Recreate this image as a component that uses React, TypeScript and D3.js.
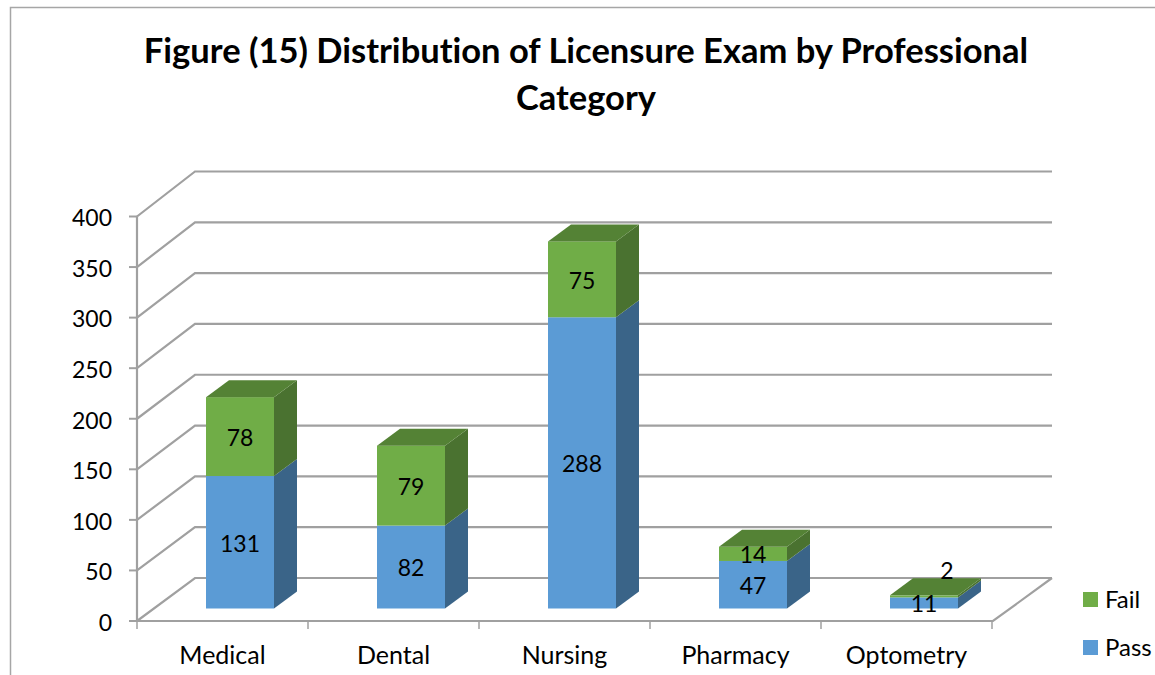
import React from "react";
import * as d3 from "d3";

const categories = ["Medical", "Dental", "Nursing", "Pharmacy", "Optometry"];
const passValues = [131, 82, 288, 47, 11];
const failValues = [78, 79, 75, 14, 2];
const yTicks = [0, 50, 100, 150, 200, 250, 300, 350, 400];
const titleLines = ["Figure (15) Distribution of Licensure Exam by Professional", "Category"];

const W = 1155, H = 675;
const FONT = "Lato, Carlito, Calibri, sans-serif";
const GRID = "#a0a0a0";
const depthX = 58;
const barDepthX = 23, barDepthY = 17;
const barW = 68, barOffsetX = 17.5, barLift = 12.5;

const colors = {
  Pass: { front: "#5b9bd5", side: "#3a6488", top: "#41719c" },
  Fail: { front: "#70ad47", side: "#4a7230", top: "#548235" },
};

const x = d3.scaleBand<string>().domain(categories).range([137, 992]);
const y = d3.scaleLinear().domain([0, 400]).range([621, 216.5]);
const yBack = d3.scaleLinear().domain([0, 400]).range([578, 171.5]);

const rows = categories.map((c, i) => ({ cat: c, Pass: passValues[i], Fail: failValues[i] }));
const stacked = d3.stack<any>().keys(["Pass", "Fail"])(rows);
const poly = d3.line();

export default function App() {
  return (
    <svg width={W} height={H} style={{ position: "absolute", left: 0, top: 0, background: "#fff", display: "block", fontVariantLigatures: "none" }} fontFamily={FONT}>
      <path d={`M10.5,${H}V7.5H${W}`} fill="none" stroke="#a6a6a6" strokeWidth={1.5} />
      {titleLines.map((t, i) => (
        <text key={t} x={586} y={63 + i * 47} textAnchor="middle" fontSize={34.5} fontWeight={700} fill="#000">{t}</text>
      ))}

      {yTicks.map((t) => {
        const yy = y(t);
        const yb = yBack(t);
        return (
          <g key={t}>
            <path d={poly([[137, yy], [137 + depthX, yb], [1052, yb]])!} fill="none" stroke={GRID} strokeWidth={2.2} />
            <line x1={129} x2={137} y1={yy} y2={yy} stroke={GRID} strokeWidth={2} />
            <text x={112} y={yy + 1.5} dy="0.36em" textAnchor="end" fontSize={23} fill="#000">{t}</text>
          </g>
        );
      })}
      <line x1={137} x2={137} y1={y(400)} y2={y(0)} stroke={GRID} strokeWidth={2.2} />
      <path d={poly([[137, y(0)], [993, y(0)], [1052, yBack(0)]])!} fill="none" stroke={GRID} strokeWidth={2.2} />
      {d3.range(categories.length + 1).map((i) => {
        const xx = 137 + i * x.step();
        return <line key={i} x1={xx} x2={xx} y1={y(0)} y2={y(0) + 8} stroke={GRID} strokeWidth={1.5} />;
      })}
      {categories.map((c) => (
        <text key={c} x={x(c)! + x.bandwidth() / 2} y={664} textAnchor="middle" fontSize={25} fill="#000">{c}</text>
      ))}

      {categories.map((c, i) => {
        const x0 = x(c)! + x.bandwidth() / 2 + barOffsetX - barW / 2;
        const x1 = x0 + barW;
        return (
          <g key={c}>
            {stacked.map((s) => {
              const key = s.key as "Pass" | "Fail";
              const col = colors[key];
              const yb = y(s[i][0]) - barLift;
              const yt = y(s[i][1]) - barLift;
              return (
                <g key={key}>
                  <rect x={x0} y={yt} width={barW} height={yb - yt} fill={col.front} />
                  <path d={poly([[x1, yb], [x1 + barDepthX, yb - barDepthY], [x1 + barDepthX, yt - barDepthY], [x1, yt]])! + "Z"} fill={col.side} />
                  {key === "Fail" && (
                    <path d={poly([[x0, yt], [x0 + barDepthX, yt - barDepthY], [x1 + barDepthX, yt - barDepthY], [x1, yt]])! + "Z"} fill={col.top} />
                  )}
                </g>
              );
            })}
          </g>
        );
      })}
      {categories.map((c, i) => {
        const cx = x(c)! + x.bandwidth() / 2 + barOffsetX;
        return stacked.map((s) => {
          const key = s.key as "Pass" | "Fail";
          const v = rows[i][key];
          const mid = (y(s[i][0]) + y(s[i][1])) / 2 - barLift + 1;
          const small = v < 5;
          return (
            <text key={key + c} x={small ? cx + barDepthX : cx} y={small ? mid - barDepthY - 10 : mid} dy="0.36em" textAnchor="middle" fontSize={23} fill="#000">{v}</text>
          );
        });
      })}

      {[{ k: "Fail" as const, yy: 592 }, { k: "Pass" as const, yy: 640 }].map(({ k, yy }) => (
        <g key={k}>
          <rect x={1083} y={yy} width={15} height={15} fill={colors[k].front} />
          <text x={1105} y={yy + 7.5} dy="0.36em" fontSize={24} fill="#000">{k}</text>
        </g>
      ))}
    </svg>
  );
}
